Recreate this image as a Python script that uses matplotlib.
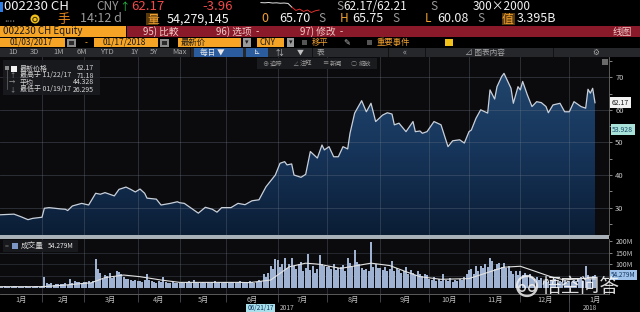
"""
Bloomberg-style price / volume chart for 002230 CH (2017-01-03 .. 2018-01-17).
"""

import numpy as np
import matplotlib
matplotlib.use("Agg")
import matplotlib.pyplot as plt
import matplotlib.transforms as mtransforms
from matplotlib.colors import LinearSegmentedColormap
from matplotlib.patches import Rectangle, Polygon, Circle

plt.rcParams['font.family'] = ['Noto Sans CJK SC', 'DejaVu Sans']

W, H = 640, 312

# ---- data (trading-day index from 2017-01-03) -------------------
month_start_days = [0, 18, 36, 59, 77, 97, 119, 140, 163, 184, 201, 223, 244, 266]
month_labels = ["1月", "2月", "3月", "4月", "5月", "6月", "7月",
                "8月", "9月", "10月", "11月", "12月", "1月"]

price_days = [0, 6, 9, 12, 14, 18, 19, 21, 26, 28, 29, 31, 35, 38, 41, 43, 45, 47,
              49, 51, 54, 56, 58, 60, 62, 63, 67, 69, 73, 76, 77, 79, 81, 85, 88,
              91, 93, 95, 99, 102, 105, 108, 111, 114, 118, 120, 122, 123, 125,
              126, 129, 131, 133, 136, 138, 139, 141, 143, 145, 147, 149, 150,
              152, 155, 157, 159, 161, 164, 166, 168, 169, 171, 174, 177, 178,
              180, 181, 183, 186, 189, 192, 194, 197, 199, 201, 202, 204, 206,
              209, 210, 212, 213, 215, 216, 219, 220, 222, 223, 224, 226, 228,
              230, 232, 234, 235, 237, 240, 242, 244, 246, 249, 251, 252, 253,
              254, 255]
price_vals = [27.8, 28.0, 27.2, 26.3, 26.7, 27.05, 29.8, 30.0, 29.6, 29.5, 29.1,
              30.5, 31.3, 30.8, 34.4, 34.1, 34.6, 34.1, 33.6, 35.6, 36.3, 35.6,
              34.8, 35.7, 34.4, 32.9, 32.6, 30.8, 31.3, 31.8, 31.5, 31.3, 30.3,
              28.3, 30.1, 29.5, 28.6, 30.0, 30.0, 31.3, 30.9, 32.1, 32.4, 36.4,
              40.0, 43.6, 44.1, 43.1, 43.4, 40.0, 39.3, 40.2, 47.2, 45.2, 49.2,
              47.7, 48.7, 45.6, 45.6, 48.7, 48.0, 52.8, 59.0, 62.8, 59.4, 62.0,
              56.4, 58.4, 59.1, 58.7, 55.4, 55.9, 53.3, 56.4, 53.3, 53.5, 52.8,
              53.3, 56.4, 55.4, 48.7, 50.5, 50.8, 49.8, 53.3, 53.8, 57.4, 60.0,
              59.0, 66.1, 63.3, 67.1, 70.2, 71.18, 66.6, 62.0, 67.1, 66.1, 68.7,
              64.6, 61.0, 62.5, 62.2, 61.0, 59.1, 61.5, 62.0, 59.4, 59.4, 62.5,
              61.0, 60.5, 66.3, 65.1, 66.6, 62.17]

# daily volume, millions of shares
volume_m = (
    [6, 5, 7, 6, 5, 6, 8, 7, 6, 5, 6, 7, 6, 5, 6, 7, 8, 6] +
    [10, 48, 22, 18, 20, 15, 17, 19, 16, 18, 21, 15, 37, 22, 28, 25, 27, 20] +
    [24, 26, 30, 22, 28, 121, 79, 65, 40, 55, 50, 65, 42, 48, 72, 68, 58, 45,
     38, 40, 35, 30, 33] +
    [28, 30, 25, 32, 58, 36, 28, 25, 22, 30, 26, 48, 24, 22, 20, 25, 23, 21] +
    [22, 25, 20, 24, 28, 22, 35, 24, 21, 23, 26, 22, 25, 20, 24, 30, 22, 26, 23, 27] +
    [25, 22, 27, 24, 21, 26, 30, 23, 22, 25, 28, 24, 22, 26, 35, 30, 58, 45,
     62, 95, 80, 121] +
    [118, 90, 100, 125, 85, 100, 125, 95, 80, 100, 110, 70, 85, 145, 75, 92,
     65, 80, 140, 100, 95] +
    [90, 95, 80, 100, 75, 85, 88, 97, 70, 125, 105, 90, 161, 110, 100, 85, 75,
     80, 70, 196, 90, 100, 85] +
    [85, 75, 90, 70, 80, 114, 72, 85, 78, 65, 70, 88, 60, 75, 65, 55, 70, 60,
     50, 58, 55] +
    [40, 35, 45, 30, 38, 28, 58, 35, 30, 42, 25, 35, 30, 40, 32, 45, 60] +
    [75, 80, 60, 95, 70, 95, 85, 100, 90, 125, 114, 80, 100, 107, 90, 105, 85,
     95, 73, 60, 70, 55] +
    [70, 55, 65, 50, 60, 45, 40, 48, 35, 42, 30, 38, 25, 35, 28, 40, 22, 30,
     25, 35, 20] +
    [30, 25, 35, 28, 40, 45, 30, 93, 55, 40, 50, 54.279]
)

vol_ma_days = [0, 18, 26, 36, 39, 45, 53, 60, 69, 77, 103, 107, 116, 120, 124,
               131, 135, 137, 146, 159, 167, 174, 180, 189, 201, 210, 216, 223,
               229, 236, 242, 249, 255]
vol_ma_vals = [6, 6, 11, 20, 22, 44, 55, 48, 34, 24, 24, 23, 34, 62, 90, 105,
               102, 100, 83, 105, 95, 69, 48, 37, 40, 69, 88, 92, 72, 48, 34,
               41, 38]

intraday = [65.7, 65.6, 65.75, 65.5, 65.6, 65.4, 65.5, 65.3, 63.5, 62.0,
            62.6, 61.5, 62.2, 61.0, 61.8, 62.17]

last_px, ma_tag, last_vol = 62.17, 53.928, 54.279
y_ticks = [30, 40, 50, 60, 70]
vol_ticks = [100, 150, 200]

BG = "#0b0b0e"


def px_axes(fig, x0, y0, x1, y1):
    return fig.add_axes([x0 / W, 1 - y1 / H, (x1 - x0) / W, (y1 - y0) / H])


fig = plt.figure(figsize=(6.4, 3.12), dpi=100, facecolor="#000000")

# ---- price panel ------------------------------------------------
ax = px_axes(fig, 0, 57, 609, 235)
ax.set_facecolor(BG)
ax.set_xlim(0, 261)
ax.set_ylim(21.6, 76.2)

cmap = LinearSegmentedColormap.from_list("fill", ["#0b1d35", "#17365c", "#234870"])
grad = np.linspace(0, 1, 256).reshape(-1, 1)
im = ax.imshow(grad, extent=[0, 261, 21.6, 76.2], origin="lower", aspect="auto",
               cmap=cmap, zorder=1)
poly_xy = np.column_stack([[price_days[0]] + price_days + [price_days[-1]],
                           [21.6] + price_vals + [21.6]])
clip = Polygon(poly_xy, closed=True, transform=ax.transData, facecolor="none")
ax.add_patch(clip)
im.set_clip_path(clip)
ax.plot(price_days, price_vals, color="#c9d0da", lw=0.9, zorder=4)

for d in month_start_days[1:-1]:
    ax.axvline(d, color="#6d7886", lw=0.6, alpha=0.38, zorder=3)
for v in y_ticks:
    ax.axhline(v, color="#6d7886", lw=0.6, alpha=0.38, zorder=3)

ax.set_xticks([])
ax.yaxis.tick_right()
ax.set_yticks(y_ticks)
ax.set_yticks(np.arange(25, 76, 5), minor=True)
ax.tick_params(axis="y", which="both", colors="#9a9a9a", labelcolor="#c8c8c8",
               labelsize=5.5, length=2.5, width=0.6, pad=2)
for s in ["left", "top", "bottom"]:
    ax.spines[s].set_visible(False)
ax.spines["right"].set_color("#6a6a6a")
ax.spines["right"].set_linewidth(0.6)

blend = mtransforms.blended_transform_factory(ax.transAxes, ax.transData)
ax.text(1.005, last_px, f"{last_px:.2f}", transform=blend, fontsize=5, color="#1a1a1a",
        va="center", ha="left", zorder=6,
        bbox=dict(boxstyle="square,pad=0.25", fc="#f2f2f2", ec="none"))
ax.text(1.005, ma_tag, f"{ma_tag:.3f}", transform=blend, fontsize=5, color="#1b4a6a",
        va="center", ha="left", zorder=6,
        bbox=dict(boxstyle="square,pad=0.2", fc="#a8e2d8", ec="none"))

# ---- volume panel -----------------------------------------------
axv = px_axes(fig, 0, 239, 609, 294)
axv.set_facecolor(BG)
axv.set_xlim(0, 261)
axv.set_ylim(-25, 207)
days = np.arange(len(volume_m))
axv.bar(days, volume_m, width=0.72, color="#9fb2d2", linewidth=0, zorder=2)
axv.plot(vol_ma_days, vol_ma_vals, color="#e2e2e2", lw=0.8, zorder=4)
for d in month_start_days[1:-1]:
    axv.axvline(d, color="#6d7886", lw=0.6, alpha=0.38, zorder=1)
for v in [50, 100, 150]:
    axv.axhline(v, color="#6d7886", lw=0.6, alpha=0.3, zorder=1)

axv.yaxis.tick_right()
axv.set_yticks(vol_ticks)
axv.set_yticklabels([f"{v}M" for v in vol_ticks])
axv.tick_params(axis="y", colors="#9a9a9a", labelcolor="#c8c8c8", labelsize=5,
                length=2.5, width=0.6, pad=2)
mids = [(a + b) / 2 for a, b in zip(month_start_days[:-1], month_start_days[1:])]
axv.set_xticks(month_start_days[1:-1])
axv.set_xticklabels([])
axv.set_xticks(mids, minor=True)
axv.set_xticklabels(month_labels, minor=True)
axv.tick_params(axis="x", which="major", colors="#4a4d55", length=6, width=0.6)
axv.tick_params(axis="x", which="minor", length=0, labelsize=5.2,
                labelcolor="#c0c0c0", pad=1.5)
axv.axvline(month_start_days[-2], ymin=-0.33, ymax=0, color="#4a4d55", lw=0.6,
            clip_on=False)
for s in ["left", "top"]:
    axv.spines[s].set_visible(False)
axv.spines["right"].set_color("#6a6a6a")
axv.spines["bottom"].set_color("#6a6a6a")
for s in ["right", "bottom"]:
    axv.spines[s].set_linewidth(0.6)
vblend = mtransforms.blended_transform_factory(axv.transAxes, axv.transData)
axv.text(1.003, last_vol, f"{last_vol:.3f}M", transform=vblend, fontsize=4.6,
         color="#12355f", va="center", ha="left", zorder=6,
         bbox=dict(boxstyle="square,pad=0.2", fc="#9fc3ea", ec="none"))

# ---- intraday sparkline in header --------------------------------
axs = px_axes(fig, 258, 2, 322, 13)
axs.set_axis_off()
n_white = 8
axs.plot(range(n_white + 1), intraday[:n_white + 1], color="#e6e6e6", lw=0.7)
axs.plot(range(n_white, len(intraday)), intraday[n_white:], color="#e03030", lw=0.7)

# ---- overlay (header, legends, labels) in pixel coordinates ---------
ov = fig.add_axes([0, 0, 1, 1])
ov.set_xlim(0, W)
ov.set_ylim(H, 0)
ov.set_axis_off()


def box(x0, y0, x1, y1, fc, **kw):
    ov.add_patch(Rectangle((x0, y0), x1 - x0, y1 - y0, fc=fc, ec="none", **kw))


def txt(x, y, s, c="#e8e8e8", size=6, ha="left", **kw):
    ov.text(x, y, s, color=c, fontsize=size, ha=ha, va="center", **kw)


# row 1
box(0, 2, 3, 12, "#2f7de1")
txt(4, 7, "002230 CH", "#f2f2f2", 9.5)
txt(96, 7, "CNY", "#9a9a9a", 8.5)
txt(119, 7, "↑", "#25c447", 7.5)
txt(131, 7, "62.17", "#f04a4a", 9.5)
txt(202, 7, "-3.96", "#f04a4a", 9.5)
txt(336, 7, "S", "#9a9a9a", 8.5)
txt(343, 7, "62.17/62.21", "#f2f2f2", 8.5)
txt(430, 7, "S", "#9a9a9a", 8.5)
txt(473, 7, "300×2000", "#f2f2f2", 8.5)

# row 2
txt(4, 19, "....", "#7a7a7a", 7)
ov.add_patch(Circle((35, 19), 4.5, fc="#f2c21b", ec="none"))
ov.add_patch(Circle((35, 19.5), 2.2, fc="none", ec="#3a2a00", lw=0.7))
txt(57, 19, "手", "#e88a1a", 9)
txt(80, 19, "14:12 d", "#9a9a9a", 9)
box(146, 13, 158, 25, "#5a3a0c")
txt(147, 19, "量", "#f0a030", 8.5)
txt(167, 19, "54,279,145", "#f2f2f2", 9)
txt(261, 19, "0", "#f0a030", 9)
txt(279, 19, "65.70", "#f2f2f2", 9)
txt(318, 19, "S", "#9a9a9a", 8.5)
txt(340, 19, "H", "#f0a030", 8.5)
txt(352, 19, "65.75", "#f2f2f2", 9)
txt(392, 19, "S", "#9a9a9a", 8.5)
txt(425, 19, "L", "#f0a030", 8.5)
txt(437, 19, "60.08", "#f2f2f2", 9)
txt(477, 19, "S", "#9a9a9a", 8.5)
box(502, 13, 515, 25, "#5a3a0c")
txt(502, 19, "值", "#f0a030", 8.5)
txt(517, 19, "3.395B", "#f2f2f2", 9)

# row 3
box(0, 26, 126, 37, "#f5a425")
box(127, 26, 640, 37, "#8a1a2a")
txt(3, 31.5, "002230 CH Equity", "#1a1a1a", 7)
txt(143, 31.5, "95) 比較", "#f2cccc", 7)
txt(216, 31.5, "96) 选项  -", "#f2cccc", 7)
txt(300, 31.5, "97) 修改  -", "#f2cccc", 7)
txt(632, 31.5, "线图", "#f2cccc", 7, ha="right")

# row 4
box(0, 38, 65, 47, "#f5a425")
txt(10, 42.5, "01/03/2017", "#1a1a1a", 6)
box(67, 39, 76, 47, "#8a8a8a")
box(69, 41, 74, 45, "#2a2a2a")
txt(85, 42.5, "-", "#f5a425", 6)
box(94, 38, 158, 47, "#f5a425")
txt(103, 42.5, "01/17/2018", "#1a1a1a", 6)
box(160, 39, 169, 47, "#8a8a8a")
box(162, 41, 167, 45, "#2a2a2a")
box(178, 38, 241, 47, "#f5a425")
txt(181, 42.5, "最新价", "#1a1a1a", 6)
box(243, 38, 251, 47, "#9a9a9a")
txt(247, 42.5, "▾", "#1a1a1a", 5, ha="center")
box(257, 38, 284, 47, "#f5a425")
txt(260, 42.5, "CNY", "#1a1a1a", 6)
box(287, 38, 294, 47, "#9a9a9a")
txt(290.5, 42.5, "▾", "#1a1a1a", 5, ha="center")
box(302, 40, 307, 45, "#555555")
txt(312, 42.5, "移平", "#f0a030", 6)
txt(343, 42.5, "✎", "#c0c0c0", 6)
box(367, 40, 372, 45, "#555555")
txt(377, 42.5, "重要事件", "#f0a030", 6)
box(445, 39, 453, 46, "#f2c21b")

# row 5
box(0, 48, 640, 57, "#26272b")
for lab, x in zip(["1D", "3D", "1M", "6M", "YTD", "1Y", "5Y", "Max"],
                  [8, 30, 53, 77, 100, 130, 150, 172]):
    txt(x, 52.5, lab, "#a8a8a8", 5.5)
box(194, 48, 243, 57, "#2a5c9e")
txt(200, 52.5, "每日 ▼", "#e8e8e8", 5.5)
box(246, 48, 268, 57, "#2a5c9e")
txt(257, 52.5, "⊾", "#e8e8e8", 5.5, ha="center")
txt(276, 52.5, "⇅", "#c0c0c0", 5.5)
txt(297, 52.5, "▼", "#c0c0c0", 5)
txt(317, 52.5, "表", "#a8a8a8", 5.5)
txt(405, 52.5, "«", "#a8a8a8", 6, ha="center")
txt(465, 52.5, "⊿ 图表内容", "#a8a8a8", 5.5)
txt(596, 52.5, "⚙", "#a8a8a8", 5.5, ha="center")
for x in [190, 312, 388, 425, 553]:
    box(x, 48, x + 1, 57, "#121214")

# floating tool strip
box(257, 58, 377, 69, "#1a1b1e")
for ic, lab, x in [("⊕", "追踪", 262), ("∠", "注释", 292), ("≡", "新闻", 322),
                   ("○", "缩放", 351)]:
    txt(x, 63.5, ic, "#8a8a8a", 4.5)
    txt(x + 8, 63.5, lab, "#9a9a9a", 4.5)
box(602, 59, 608, 65, "#6a6a6a")

# price legend
box(3, 60, 100, 95, "#1b1c20", alpha=0.85)
box(5, 66, 9, 70, "#8a8a8a")
ov.plot([7, 7], [70, 89], color="#6a6a6a", lw=0.5)
box(11, 65.5, 17, 71.5, "#f2f2f2")
leg_rows = [("最新价格", "62.17"), ("最高于 11/22/17", "71.18"),
            ("平均", "44.328"), ("最低于 01/19/17", "26.295")]
for i, (lab, val) in enumerate(leg_rows):
    y = 68.5 + i * 7
    if i:
        txt(9, y, ["↑", "→", "↓"][i - 1], "#9a9a9a", 4.5)
    txt(20, y, lab, "#d8d8d8", 5)
    txt(94, y, val, "#d8d8d8", 5, ha="right")

# panel separator
box(0, 235, 609, 238.5, "#a9b0b8")

# volume legend
box(3, 240, 78, 252, "#1b1c20", alpha=0.85)
txt(5, 246, "=", "#7a7a7a", 5)
box(12, 243, 18, 249, "#7d97c4")
txt(21, 246, "成交量", "#d8d8d8", 5.5)
txt(48, 246, "54.279M", "#e8e8e8", 4.8)

# date strip
box(246, 304, 275, 312, "#a8e0ec")
txt(260.5, 308, "06/21/17", "#12355f", 4.6, ha="center")
txt(280, 308, "2017", "#c0c0c0", 4.8)
txt(583, 308.5, "2018", "#c0c0c0", 4.6)

# watermark
ov.add_patch(Circle((527, 286), 10, fc="none", ec="#f0f0f0", lw=1.6, alpha=0.85))
ov.add_patch(Circle((522, 288), 3.2, fc="none", ec="#f0f0f0", lw=1.2, alpha=0.85))
ov.add_patch(Circle((532, 288), 3.2, fc="none", ec="#f0f0f0", lw=1.2, alpha=0.85))
txt(541, 286.5, "悟空问答", "#f4f4f4", 14, alpha=0.9)

fig.savefig("out.png", dpi=100, facecolor=fig.get_facecolor())
